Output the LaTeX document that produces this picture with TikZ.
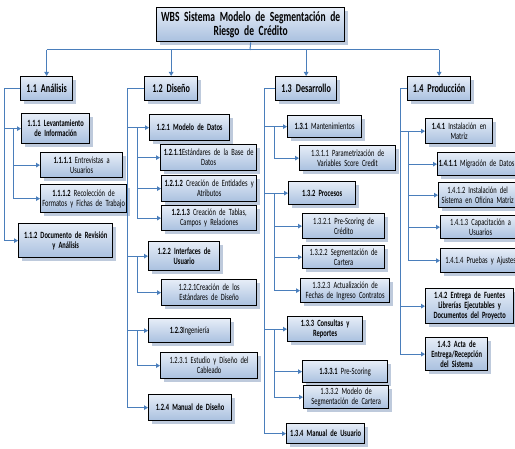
\documentclass[tikz,border=0pt]{standalone}
\usepackage{fontspec}
\setmainfont{Carlito}[FakeStretch=0.68]
\usetikzlibrary{arrows.meta,shadows}
\definecolor{wbsline}{HTML}{4A7EBB}
\definecolor{boxtop}{HTML}{E6EDF7}
\definecolor{boxbot}{HTML}{A9C0DF}
\definecolor{shadowc}{HTML}{BECADC}
\begin{document}
\begin{tikzpicture}[x=1pt,y=-1pt,
  wbs/.style={draw=black,line width=1.3pt,top color=boxtop,bottom color=boxbot,
    drop shadow={shadow xshift=3pt,shadow yshift=-3pt,fill=shadowc,opacity=1},
    anchor=north west,align=center,inner xsep=1pt,inner ysep=1pt,
    font=\fontsize{9.5}{10}\selectfont},
  bf/.style={font=\fontsize{9.5}{10}\selectfont\bfseries},
  big/.style={font=\fontsize{12}{13}\selectfont\bfseries},
  sz/.style 2 args={text width=#1,minimum height=#2},
  ln/.style={draw=wbsline,line width=1pt},
  arr/.style={ln,-{Triangle[length=4pt,width=4.5pt]}}]
\useasboundingbox (0,0) rectangle (515,449);

\node[wbs,sz={186pt}{34pt},font=\fontsize{14}{13.5}\selectfont\bfseries] (root) at (156,7) {WBS Sistema Modelo de Segmentación de\\Riesgo de Crédito};

\node[wbs,big,sz={50pt}{24pt}] (n11) at (20,76) {1.1 Análisis};
\node[wbs,big,sz={51pt}{24pt}] (n12) at (144,76) {1.2 Diseño};
\node[wbs,big,sz={59pt}{24pt}] (n13) at (275,76) {1.3 Desarrollo};
\node[wbs,big,sz={61pt}{24pt}] (n14) at (407,76) {1.4 Producción};

\node[wbs,bf,sz={66pt}{30pt}] (n111) at (21,113) {1.1.1 Levantamiento\\de Información};
\node[wbs,sz={80pt}{25pt}] (n1111) at (40,152) {\textbf{1.1.1.1} Entrevistas a\\Usuarios};
\node[wbs,sz={84pt}{28pt}] (n1112) at (40,184) {\textbf{1.1.1.2} Recolección de\\Formatos y Fichas de Trabajo};
\node[wbs,bf,sz={92pt}{34pt}] (n112) at (18,223) {1.1.2 Documento de Revisión\\y Análisis};

\node[wbs,bf,sz={78pt}{26pt}] (n121) at (149,114) {1.2.1 Modelo de Datos};
\node[wbs,sz={94pt}{26pt}] (n1211) at (160,144) {\textbf{1.2.1.1}Estándares de la Base de\\Datos};
\node[wbs,sz={93pt}{26pt}] (n1212) at (161,175) {\textbf{1.2.1.2} Creación de Entidades y\\Atributos};
\node[wbs,sz={93pt}{25pt}] (n1213) at (161,205) {\textbf{1.2.1.3} Creación de Tablas,\\Campos y Relaciones};
\node[wbs,bf,sz={69pt}{29pt}] (n122) at (148,241) {1.2.2 Interfaces de\\Usuario};
\node[wbs,sz={93pt}{26pt}] (n1221) at (161,279) {1.2.2.1Creación de los\\Estándares de Diseño};
\node[wbs,sz={80pt}{24pt}] (n123) at (148,318) {\textbf{1.2.3}Ingeniería};
\node[wbs,sz={95pt}{26pt}] (n1231) at (160,352) {1.2.3.1 Estudio y Diseño del\\Cableado};
\node[wbs,bf,sz={81pt}{26pt}] (n124) at (148,394) {1.2.4 Manual de Diseño};

\node[wbs,sz={72pt}{22pt}] (n131) at (287,115) {\textbf{1.3.1} Mantenimientos};
\node[wbs,sz={94pt}{25pt}] (n1311) at (299,145) {1.3.1.1 Parametrización de\\Variables Score Credit};
\node[wbs,bf,sz={65pt}{23pt}] (n132) at (288,181) {1.3.2 Procesos};
\node[wbs,sz={80pt}{25pt}] (n1321) at (302,213) {1.3.2.1 Pre-Scoring de\\Crédito};
\node[wbs,sz={80pt}{23pt}] (n1322) at (302,245) {1.3.2.2 Segmentación de\\Cartera};
\node[wbs,sz={87pt}{24pt}] (n1323) at (300,278) {1.3.2.3 Actualización de\\Fechas de Ingreso Contratos};
\node[wbs,bf,sz={73pt}{25pt}] (n133) at (287,316) {1.3.3 Consultas y\\Reportes};
\node[wbs,sz={83pt}{22pt}] (n1331) at (302,360) {\textbf{1.3.3.1} Pre-Scoring};
\node[wbs,sz={83pt}{23pt}] (n1332) at (303,385) {1.3.3.2 Modelo de\\Segmentación de Cartera};
\node[wbs,bf,sz={76pt}{20pt}] (n134) at (286,423) {1.3.4 Manual de Usuario};

\node[wbs,sz={65pt}{25pt}] (n141) at (425,118) {\textbf{1.4.1} Instalación en\\Matriz};
\node[wbs,sz={76pt}{23pt}] (n1411) at (437,152) {\textbf{1.4.1.1} Migración de Datos};
\node[wbs,sz={76pt}{25pt}] (n1412) at (438,182) {1.4.1.2 Instalación del\\Sistema en Oficina Matriz};
\node[wbs,sz={78pt}{23pt}] (n1413) at (440,215) {1.4.1.3 Capacitación a\\Usuarios};
\node[wbs,sz={78pt}{24pt}] (n1414) at (440,248) {1.4.1.4 Pruebas y Ajustes};
\node[wbs,bf,sz={86pt}{35pt}] (n142) at (425,288) {1.4.2 Entrega de Fuentes\\Librerías Ejecutables y\\Documentos del Proyecto};
\node[wbs,bf,sz={60pt}{33pt}] (n143) at (425,337) {1.4.3 Acta de\\Entrega/Recepción\\del Sistema};

\coordinate (bus) at (250,50);
\draw[ln] (root.south) -- (bus);
\draw[ln] (n11.north |- bus) -- (n14.north |- bus);
\foreach \n in {n11,n12,n13,n14}
  \draw[arr] (\n.north |- bus) -- (\n.north);

\coordinate (v1) at (4,0);
\coordinate (s1) at (13,0);
\draw[ln] (n11.west) -| (v1 |- n112.west);
\foreach \n in {n111,n112}
  \draw[arr] (v1 |- \n.west) -- (\n.west);
\draw[ln] (s1 |- n111.west) -- (s1 |- n1112.west);
\foreach \n in {n1111,n1112}
  \draw[arr] (s1 |- \n.west) -- (\n.west);

\coordinate (v2) at (127,0);
\coordinate (s2) at (137,0);
\draw[ln] (n12.west) -| (v2 |- n124.west);
\foreach \n in {n121,n122,n123,n124}
  \draw[arr] (v2 |- \n.west) -- (\n.west);
\draw[ln] (s2 |- n121.west) -- (s2 |- n1213.west);
\draw[ln] (s2 |- n122.west) -- (s2 |- n1221.west);
\draw[ln] (s2 |- n123.west) -- (s2 |- n1231.west);
\foreach \n in {n1211,n1212,n1213,n1221,n1231}
  \draw[arr] (s2 |- \n.west) -- (\n.west);

\coordinate (v3) at (264,0);
\coordinate (s3) at (274,0);
\draw[ln] (n13.west) -| (v3 |- n134.west);
\foreach \n in {n131,n132,n133,n134}
  \draw[arr] (v3 |- \n.west) -- (\n.west);
\draw[ln] (s3 |- n131.west) -- (s3 |- n1311.west);
\draw[ln] (s3 |- n132.west) -- (s3 |- n1323.west);
\draw[ln] (s3 |- n133.west) -- (s3 |- n1332.west);
\foreach \n in {n1311,n1321,n1322,n1323,n1331,n1332}
  \draw[arr] (s3 |- \n.west) -- (\n.west);

\coordinate (v4) at (400,0);
\coordinate (s4) at (408,0);
\draw[ln] (n14.west) -| (v4 |- n143.west);
\foreach \n in {n141,n142,n143}
  \draw[arr] (v4 |- \n.west) -- (\n.west);
\draw[ln] (s4 |- n141.west) -- (s4 |- n1414.west);
\foreach \n in {n1411,n1412,n1413,n1414}
  \draw[arr] (s4 |- \n.west) -- (\n.west);
\end{tikzpicture}
\end{document}
